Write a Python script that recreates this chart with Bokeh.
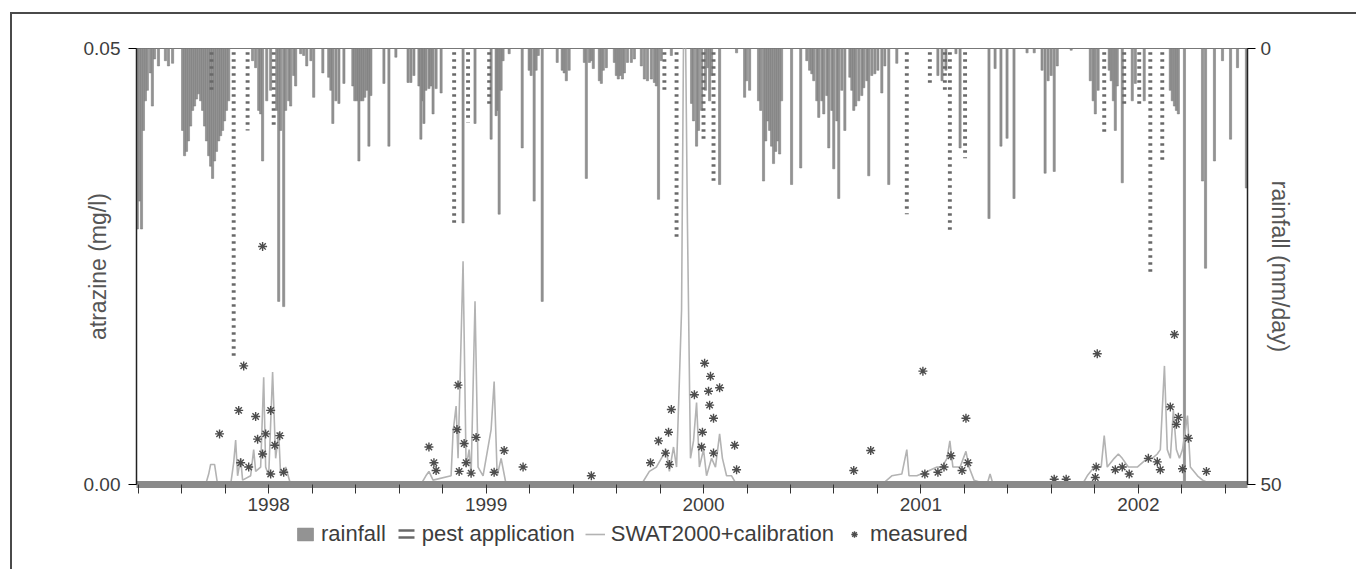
from bokeh.plotting import figure
from bokeh.layouts import column
from bokeh.models import (Range1d, LinearAxis, FixedTicker, PrintfTickFormatter,
                          Legend, LegendItem)
from bokeh.embed import file_html
from bokeh.resources import INLINE

# ---------------- data (decimal years) ----------------
year_ticks = [1998, 1999, 2000, 2001, 2002]
minor_ticks = [1997.4, 1997.6, 1997.8, 1998.2, 1998.4, 1998.6, 1998.8, 1999.2, 1999.4,
               1999.6, 1999.8, 2000.2, 2000.4, 2000.6, 2000.8, 2001.2, 2001.4, 2001.6,
               2001.8, 2002.2, 2002.4]

rain_date = [1997.396, 1997.406, 1997.415, 1997.424, 1997.433, 1997.442, 1997.456, 1997.465,
             1997.475, 1997.493, 1997.525, 1997.539, 1997.558,
             1997.604, 1997.613, 1997.622, 1997.631, 1997.641, 1997.650, 1997.659, 1997.668,
             1997.677, 1997.687, 1997.696, 1997.705, 1997.714, 1997.724, 1997.733, 1997.742,
             1997.751, 1997.760, 1997.770, 1997.779, 1997.788, 1997.797, 1997.806, 1997.816,
             1997.926, 1997.940, 1997.954, 1997.963, 1997.972, 1997.991, 1998.009, 1998.037,
             1998.046, 1998.055, 1998.069, 1998.078, 1998.092, 1998.101, 1998.115, 1998.124,
             1998.147, 1998.161, 1998.175, 1998.194, 1998.207, 1998.249, 1998.276, 1998.286,
             1998.295, 1998.309, 1998.323, 1998.346, 1998.387, 1998.396, 1998.406, 1998.415,
             1998.424, 1998.433, 1998.442, 1998.452, 1998.461, 1998.470, 1998.530, 1998.553,
             1998.585, 1998.641, 1998.654, 1998.668, 1998.691, 1998.700, 1998.710, 1998.714,
             1998.723, 1998.737, 1998.747, 1998.756, 1998.770, 1998.793, 1998.894, 1998.949,
             1999.023, 1999.046, 1999.055, 1999.060, 1999.069, 1999.078, 1999.106, 1999.166,
             1999.198, 1999.207, 1999.221, 1999.230, 1999.240, 1999.258, 1999.327, 1999.350,
             1999.359, 1999.369, 1999.382, 1999.452, 1999.461, 1999.475, 1999.484, 1999.493,
             1999.521, 1999.530, 1999.539, 1999.553, 1999.590, 1999.599, 1999.608, 1999.617,
             1999.627, 1999.636, 1999.650, 1999.668, 1999.682, 1999.714, 1999.728, 1999.742,
             1999.760, 1999.774, 1999.783, 1999.793, 1999.806, 1999.852, 1999.945, 1999.954,
             1999.968, 1999.977, 1999.991, 2000.009, 2000.018, 2000.028, 2000.037, 2000.074,
             2000.152, 2000.189, 2000.198, 2000.212, 2000.253, 2000.263, 2000.276, 2000.286,
             2000.295, 2000.304, 2000.313, 2000.322, 2000.332, 2000.341, 2000.350, 2000.359,
             2000.405, 2000.447, 2000.475, 2000.488, 2000.498, 2000.507, 2000.521, 2000.530,
             2000.544, 2000.553, 2000.567, 2000.576, 2000.590, 2000.599, 2000.613, 2000.622,
             2000.636, 2000.650, 2000.673, 2000.682, 2000.691, 2000.700, 2000.714, 2000.728,
             2000.737, 2000.751, 2000.760, 2000.774, 2000.788, 2000.802, 2000.820, 2000.834,
             2000.852, 2000.889, 2001.078, 2001.097, 2001.115, 2001.161, 2001.180, 2001.313,
             2001.341, 2001.368, 2001.396, 2001.428, 2001.488, 2001.521, 2001.557, 2001.571,
             2001.585, 2001.599, 2001.613, 2001.627, 2001.691, 2001.779, 2001.792, 2001.802,
             2001.815, 2001.866, 2001.875, 2001.885, 2001.894, 2001.903, 2001.926, 2001.972,
             2001.986, 2002.027, 2002.147, 2002.156, 2002.166, 2002.175, 2002.184, 2002.212,
             2002.295, 2002.309, 2002.350, 2002.387, 2002.424, 2002.456, 2002.497]
rain_mm = [20.7, 17.5, 20.7, 9.4, 6.0, 4.8, 2.8, 6.6,
           1.2, 2.0, 1.4, 2.0, 1.7,
           9.4, 12.3, 11.8, 10.6, 8.9, 7.1, 6.6, 5.8,
           5.2, 6.0, 7.1, 8.9, 10.6, 12.3, 13.5, 14.9,
           12.9, 11.8, 10.6, 10.0, 9.4, 8.3, 7.1, 6.0,
           1.4, 2.2, 7.1, 7.5, 12.9, 6.0, 4.8, 7.1,
           29.0, 9.4, 29.6, 7.1, 6.0, 6.6, 3.1, 4.3,
           0.6, 0.8, 2.0, 1.4, 5.6, 2.8, 3.3, 4.8,
           8.6, 6.0, 6.3, 4.0, 4.3, 6.0, 6.0, 12.9,
           6.0, 6.0, 5.6, 4.8, 11.2, 5.4, 4.0, 11.2,
           1.0, 3.9, 3.9, 3.1, 4.3, 10.4, 6.0, 8.6,
           4.8, 4.6, 4.3, 7.5, 4.6, 5.1, 20.0, 8.6,
           10.4, 7.7, 7.1, 19.0, 4.8, 1.4, 0.6, 11.4,
           2.5, 3.1, 17.5, 2.5, 0.8, 29.0, 1.6, 2.5,
           2.8, 3.7, 2.5, 1.6, 14.9, 1.6, 1.4, 2.3,
           3.7, 4.0, 2.5, 2.2, 1.6, 3.1, 3.5, 3.1,
           3.5, 2.8, 1.6, 1.6, 1.2, 2.0, 3.5, 3.7,
           3.5, 3.9, 4.3, 17.3, 1.4, 0.8, 6.3, 8.3,
           11.2, 9.4, 7.1, 4.8, 2.2, 6.0, 3.1, 15.6,
           0.5, 5.6, 3.7, 4.8, 6.0, 7.1, 15.2, 10.6,
           8.3, 9.4, 11.2, 13.2, 11.8, 10.6, 12.1, 6.0,
           15.6, 13.7, 1.4, 2.5, 2.9, 3.7, 6.0, 7.9,
           6.0, 7.5, 5.4, 11.4, 7.1, 13.8, 8.3, 17.2,
           4.8, 9.4, 3.3, 4.8, 7.1, 6.6, 6.0, 5.4,
           4.5, 3.7, 14.6, 3.1, 2.9, 2.5, 5.1, 2.0,
           15.6, 1.7, 3.1, 3.7, 2.5, 0.6, 11.4, 19.5,
           2.3, 11.2, 10.3, 17.2, 0.5, 0.5, 2.5, 14.3,
           3.7, 3.1, 14.1, 2.0, 0.2, 3.7, 6.0, 7.5,
           4.8, 2.5, 3.7, 6.0, 9.4, 4.3, 15.4, 6.0,
           4.0, 6.0, 4.8, 6.0, 6.6, 7.1, 7.5, 50.0,
           15.2, 25.2, 12.9, 1.4, 10.4, 2.2, 16.0]

pest_date = [1997.737, 1997.839, 1997.903, 1998.023, 1998.853, 1998.917, 1999.014,
             1999.820, 1999.876, 2000.000, 2000.046, 2000.935, 2001.041, 2001.110,
             2001.133, 2001.203, 2001.843, 2001.935, 2002.004, 2002.055, 2002.110]
pest_amount = [4.8, 35.4, 9.4, 9.1, 20.0, 8.5, 6.5,
               4.8, 21.9, 10.6, 15.2, 19.0, 4.0, 4.8,
               21.0, 12.6, 9.7, 6.8, 6.8, 25.8, 12.9]

swat_date = [1997.392, 1997.710, 1997.724, 1997.733, 1997.751, 1997.765, 1997.825, 1997.839,
             1997.848, 1997.857, 1997.871, 1997.880, 1997.917, 1997.931, 1997.940, 1997.963,
             1997.977, 1997.986, 1998.000, 1998.018, 1998.032, 1998.046, 1998.055, 1998.078,
             1998.101, 1998.700, 1998.723, 1998.737, 1998.756, 1998.839, 1998.848, 1998.862,
             1998.871, 1998.894, 1998.908, 1998.922, 1998.931, 1998.949, 1998.963, 1998.986,
             1999.023, 1999.037, 1999.051, 1999.069, 1999.092, 1999.714, 1999.751, 1999.783,
             1999.806, 1999.829, 1999.843, 1999.862, 1999.876, 1999.889, 1999.899, 1999.912,
             1999.926, 1999.940, 1999.954, 1999.968, 1999.981, 2000.000, 2000.014, 2000.037,
             2000.055, 2000.074, 2000.087, 2000.106, 2000.129, 2000.152, 2000.820, 2000.866,
             2000.912, 2000.935, 2000.945, 2000.981, 2001.028, 2001.074, 2001.097, 2001.120,
             2001.133, 2001.147, 2001.180, 2001.207, 2001.221, 2001.244, 2001.304, 2001.318,
             2001.332, 2001.742, 2001.765, 2001.797, 2001.829, 2001.843, 2001.857, 2001.889,
             2001.908, 2001.926, 2001.954, 2001.995, 2002.041, 2002.064, 2002.087, 2002.101,
             2002.120, 2002.133, 2002.147, 2002.161, 2002.175, 2002.189, 2002.203, 2002.226,
             2002.239, 2002.272, 2002.295, 2002.341, 2002.502]
swat_conc = [0.0, 0.0, 0.0012, 0.0023, 0.0023, 0.0, 0.0, 0.0025,
             0.0051, 0.001, 0.003, 0.0005, 0.001, 0.004, 0.0015, 0.002,
             0.0123, 0.002, 0.001, 0.0129, 0.003, 0.006, 0.001, 0.002,
             0.0, 0.0, 0.001, 0.0015, 0.0005, 0.001, 0.006, 0.009,
             0.003, 0.0256, 0.002, 0.004, 0.001, 0.021, 0.002, 0.001,
             0.0063, 0.0118, 0.001, 0.003, 0.0, 0.0, 0.0015, 0.002,
             0.003, 0.004, 0.0015, 0.0043, 0.002, 0.012, 0.02, 0.065,
             0.03, 0.003, 0.005, 0.0094, 0.002, 0.004, 0.001, 0.003,
             0.002, 0.0058, 0.003, 0.001, 0.001, 0.0, 0.0, 0.001,
             0.0012, 0.004, 0.001, 0.001, 0.0015, 0.002, 0.002, 0.003,
             0.005, 0.002, 0.002, 0.0038, 0.002, 0.0005, 0.0, 0.0012,
             0.0, 0.0, 0.001, 0.002, 0.002, 0.0056, 0.002, 0.003,
             0.0035, 0.003, 0.002, 0.002, 0.003, 0.003, 0.0035, 0.004,
             0.0136, 0.004, 0.003, 0.0085, 0.004, 0.003, 0.004, 0.0079,
             0.002, 0.001, 0.0005, 0.0, 0.0]

meas_date = [1997.774, 1997.862, 1997.885, 1997.972, 1997.940, 1997.949, 1998.009, 1997.986,
             1998.051, 1998.028, 1997.972, 1997.871, 1997.908, 1998.009, 1998.069,
             1998.737, 1998.760, 1998.770, 1998.871, 1998.866, 1998.899, 1998.954, 1998.908,
             1998.876, 1998.931, 1999.037, 1999.083, 1999.170, 1999.484,
             1999.852, 1999.958, 2000.005, 2000.032, 2000.023, 2000.074, 2000.028, 2000.046,
             1999.839, 1999.793, 1999.825, 1999.843, 1999.756, 1999.995, 1999.991, 2000.046,
             2000.143, 2000.152, 2000.769, 2000.691,
             2001.009, 2001.207, 2001.138, 2001.106, 2001.078, 2001.018, 2001.189, 2001.216,
             2001.613, 2001.668, 2001.806, 2001.802, 2001.811, 2001.894, 2001.926, 2001.958,
             2002.046, 2002.087, 2002.147, 2002.184, 2002.175, 2002.230, 2002.166, 2002.101,
             2002.203, 2002.313]
meas_conc = [0.0058, 0.0085, 0.0136, 0.0273, 0.0078, 0.0052, 0.0085, 0.0058,
             0.0056, 0.0045, 0.0035, 0.0025, 0.002, 0.0012, 0.0014,
             0.0043, 0.0025, 0.0016, 0.0114, 0.0063, 0.0047, 0.0054, 0.0025,
             0.0015, 0.0013, 0.0014, 0.0039, 0.002, 0.001,
             0.0086, 0.0103, 0.0139, 0.0124, 0.0107, 0.0111, 0.0091, 0.0076,
             0.006, 0.005, 0.0036, 0.0023, 0.0025, 0.006, 0.0043, 0.0036,
             0.0045, 0.0017, 0.0039, 0.0016,
             0.013, 0.0076, 0.0033, 0.002, 0.0014, 0.0012, 0.0016, 0.0025,
             0.0006, 0.0006, 0.002, 0.0008, 0.015, 0.0017, 0.002, 0.0012,
             0.003, 0.0026, 0.0089, 0.0077, 0.0069, 0.0053, 0.0172, 0.0017,
             0.0018, 0.0015]

# ---------------- styles ----------------
TXT = "#3d3d3d"
FONT = "Liberation Sans"
BORDER = "2px solid #4a4a4a"
RAIN_STYLE = dict(fill_color="#939393", line_color="#777777", line_width=0.5)
PEST_STYLE = dict(fill_color=None, line_color=None, hatch_pattern="horizontal_line",
                  hatch_color="#686868", hatch_scale=7, hatch_weight=2.5)
SWAT_STYLE = dict(line_color="#b3b3b3", line_width=1.6)
MEAS_STYLE = dict(marker="asterisk", size=9, line_color="#4d4d4d", line_width=1.4)

# ---------------- main figure ----------------
p = figure(frame_width=1109, frame_height=434,
           min_border_left=124, min_border_right=111, min_border_top=34, min_border_bottom=40,
           x_range=Range1d(1997.392, 2002.502), y_range=Range1d(0, 0.05),
           output_backend="svg", toolbar_location=None, background_fill_color="white")
p.margin = (12, 0, 0, 10)
p.styles = {"border-top": BORDER, "border-left": BORDER}
p.grid.visible = False
p.outline_line_color = "#777777"
p.outline_line_width = 1

p.extra_y_ranges = {"rain": Range1d(50, 0)}

p.vbar(x=rain_date, width=0.010, top=0, bottom=rain_mm, y_range_name="rain", **RAIN_STYLE)
p.vbar(x=pest_date, width=0.018, top=0, bottom=pest_amount, y_range_name="rain", **PEST_STYLE)
p.line(swat_date, swat_conc, **SWAT_STYLE)
p.scatter(meas_date, meas_conc, **MEAS_STYLE)

xa = p.xaxis[0]
xa.ticker = FixedTicker(ticks=year_ticks, minor_ticks=minor_ticks)
xa.axis_line_color = "#8a8a8a"
xa.axis_line_width = 7
xa.major_tick_out = 9
xa.major_tick_in = 0
xa.minor_tick_out = 9
xa.minor_tick_in = 0
xa.major_tick_line_color = "#333333"
xa.minor_tick_line_color = "#333333"
xa.major_label_standoff = 4
xa.major_label_text_font = FONT
xa.major_label_text_font_size = "19px"
xa.major_label_text_color = TXT

ya = p.yaxis[0]
ya.ticker = FixedTicker(ticks=[0, 0.05])
ya.formatter = PrintfTickFormatter(format="%.2f")
ya.axis_line_color = "#222222"
ya.axis_line_width = 1.5
ya.major_tick_out = 8
ya.major_tick_in = 0
ya.minor_tick_out = 0
ya.minor_tick_in = 0
ya.major_label_standoff = 8
ya.major_label_text_font = FONT
ya.major_label_text_font_size = "19px"
ya.major_label_text_color = TXT
ya.axis_label = "atrazine (mg/l)"
ya.axis_label_text_font = FONT
ya.axis_label_text_font_size = "23px"
ya.axis_label_text_font_style = "normal"
ya.axis_label_text_color = "#555555"
ya.axis_label_standoff = -30

ra = LinearAxis(y_range_name="rain", ticker=FixedTicker(ticks=[0, 50]))
ra.axis_line_color = "#222222"
ra.axis_line_width = 1.5
ra.major_tick_out = 8
ra.major_tick_in = 0
ra.minor_tick_out = 0
ra.minor_tick_in = 0
ra.major_label_standoff = 5
ra.major_label_text_font = FONT
ra.major_label_text_font_size = "19px"
ra.major_label_text_color = TXT
ra.axis_label = "rainfall (mm/day)"
ra.axis_label_text_font = FONT
ra.axis_label_text_font_size = "23px"
ra.axis_label_text_font_style = "normal"
ra.axis_label_text_color = "#555555"
ra.axis_label_standoff = -18
p.add_layout(ra, "right")

# ---------------- legend strip (hidden key renderers carry the styles) ----------------
lg = figure(width=1344, height=47, min_border=0, x_range=Range1d(0, 1), y_range=Range1d(0, 1),
            x_axis_location=None, y_axis_location=None,
            output_backend="svg", toolbar_location=None, background_fill_color="white")
lg.margin = (0, 0, 0, 10)
lg.styles = {"border-left": BORDER}
lg.grid.visible = False
lg.outline_line_color = None
k_rain = lg.vbar(x=rain_date[:1], width=0.01, top=0, bottom=rain_mm[:1], **RAIN_STYLE)
k_pest = lg.vbar(x=pest_date[:1], width=0.01, top=0, bottom=pest_amount[:1], **PEST_STYLE)
k_swat = lg.line(x=swat_date[:2], y=swat_conc[:2], **SWAT_STYLE)
k_meas = lg.scatter(x=meas_date[:1], y=meas_conc[:1], **MEAS_STYLE)
for r in (k_rain, k_pest, k_swat, k_meas):
    r.visible = False

legend = Legend(items=[LegendItem(label="rainfall", renderers=[k_rain]),
                       LegendItem(label="pest application", renderers=[k_pest]),
                       LegendItem(label="SWAT2000+calibration", renderers=[k_swat]),
                       LegendItem(label="measured", renderers=[k_meas])],
                orientation="horizontal", location=(159, 22),
                glyph_width=20, glyph_height=16, label_standoff=6, spacing=10,
                padding=0, margin=0, border_line_color=None, background_fill_alpha=0,
                inactive_fill_alpha=0,
                label_text_font=FONT, label_text_font_size="22px", label_text_color=TXT)
lg.add_layout(legend, "center")

layout = column(p, lg, spacing=0)
open("out.html", "w").write(file_html(layout, INLINE))
